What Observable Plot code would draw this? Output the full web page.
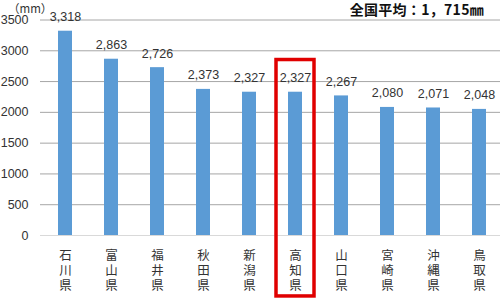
<!DOCTYPE html>
<html>
<head>
<meta charset="utf-8">
<script src="https://cdn.jsdelivr.net/npm/d3@7"></script>
<script src="https://cdn.jsdelivr.net/npm/@observablehq/plot@0.6"></script>
<style>
  html, body { margin: 0; padding: 0; background: #fff; }
  #chart { position: relative; width: 500px; height: 299px; overflow: hidden; }
  #chart svg { display: block; }
  .unit { position: absolute; left: 8px; top: 0px; font: 11.5px "Noto Sans CJK JP", sans-serif; color: #333; }
  .avg { position: absolute; right: 16px; top: -1px; font: bold 14px "Noto Sans CJK JP", sans-serif; color: #111; letter-spacing: 0.3px; }
</style>
</head>
<body>
<div id="chart">
  <div class="unit">（mm）</div>
  <div class="avg">全国平均：1，715㎜</div>
</div>
<script>
const prefectures = ["石川県", "富山県", "福井県", "秋田県", "新潟県", "高知県", "山口県", "宮崎県", "沖縄県", "鳥取県"];
const rainfall = [3318, 2863, 2726, 2373, 2327, 2327, 2267, 2080, 2071, 2048];
const yTicks = [0, 500, 1000, 1500, 2000, 2500, 3000, 3500];
const highlight = ["高知県"];
const highlightRange = [-990, 2850];

const data = prefectures.map((p, i) => ({prefecture: p, value: rainfall[i]}));
const hl = highlight.map(p => ({prefecture: p, y1: highlightRange[0], y2: highlightRange[1]}));

const chart = Plot.plot({
  width: 500,
  height: 299,
  marginTop: 19.5,
  marginBottom: 64,
  marginLeft: 40,
  marginRight: -3,
  style: {fontFamily: '"Liberation Sans", "Noto Sans CJK JP", sans-serif', fontSize: "12px", color: "#333", background: "#fff"},
  x: {domain: prefectures, paddingInner: 0.7, paddingOuter: 0.35, label: null},
  y: {domain: [0, 3500], label: null},
  marks: [
    Plot.ruleY(yTicks.filter(d => d > 0), {stroke: "#a6a6a6", strokeWidth: 1}),
    Plot.ruleY([0], {stroke: "#d9d9d9", strokeWidth: 1}),
    Plot.barY(data, {x: "prefecture", y: "value", fill: "#5b9bd5"}),
    Plot.text(data, {x: "prefecture", y: "value", text: d => d3.format(",")(d.value), dy: -14, fontSize: 12.5, fill: "#333"}),
    Plot.axisY({ticks: yTicks, tickSize: 0, tickPadding: 12, fontSize: 12.5, tickFormat: d => String(d), fill: "#333"}),
    Plot.axisX({tickSize: 0, tickPadding: 14, fontSize: 12.5, lineHeight: 1.2, fill: "#333", fontFamily: '"Noto Sans CJK JP", sans-serif', tickFormat: d => [...d].join("\n")}),
    Plot.barY(hl, {x: "prefecture", y1: "y1", y2: "y2", fill: "none", stroke: "#e00000", strokeWidth: 3.5, insetLeft: -12, insetRight: -12})
  ]
});
document.getElementById("chart").prepend(chart);
</script>
</body>
</html>
